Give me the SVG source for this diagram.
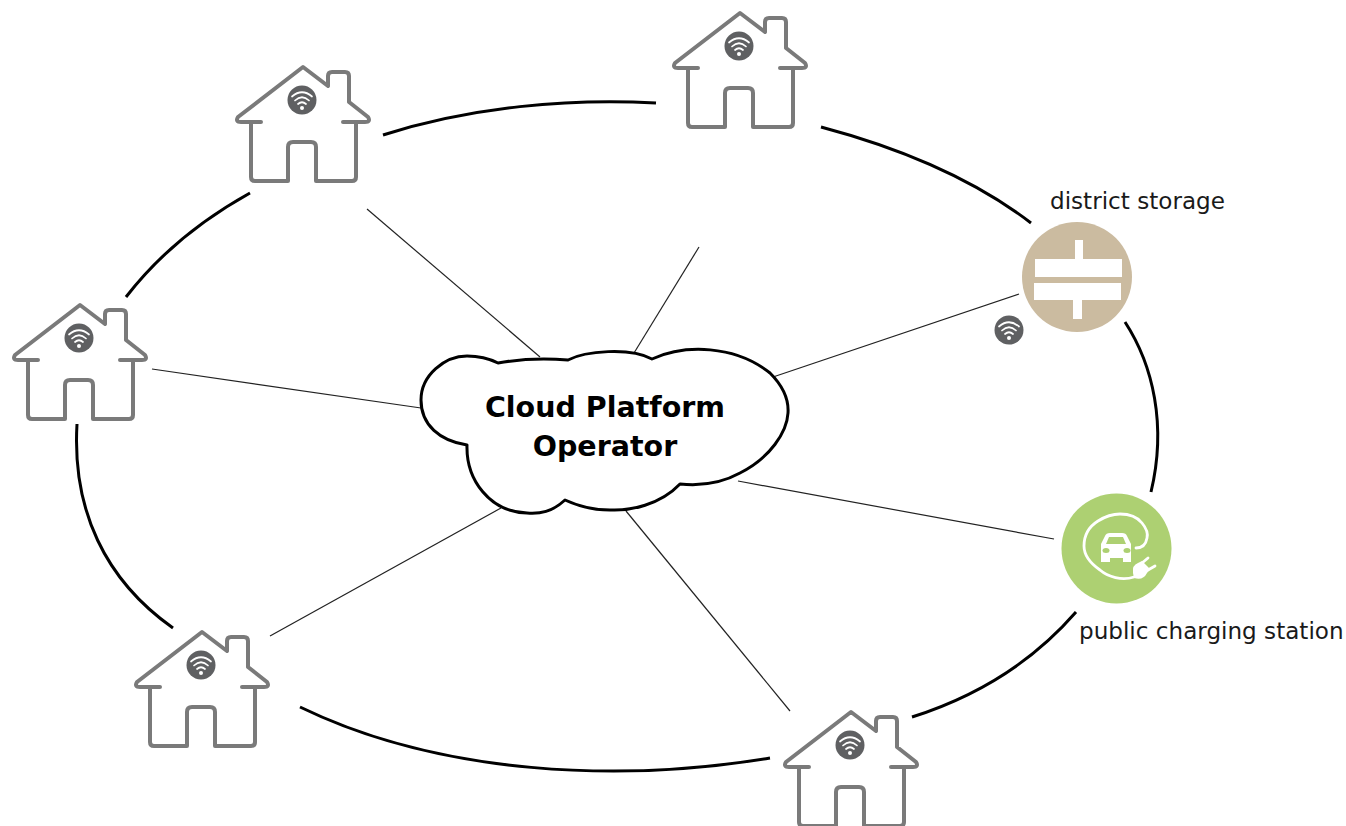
<svg xmlns="http://www.w3.org/2000/svg" width="1346" height="826" viewBox="0 0 1346 826">
<style>
text{font-family:"DejaVu Sans",sans-serif;fill:#1a1a1a}
.ring{fill:none;stroke:#000;stroke-width:3;stroke-linecap:butt}
.spoke{fill:none;stroke:#222;stroke-width:1.2}
.h{fill:none;stroke:#7a7a7a;stroke-width:4;stroke-linejoin:round;stroke-linecap:round}
.w{fill:none;stroke:#fff;stroke-width:1.7;stroke-linecap:round}
.lbl{font-size:23.100px}
.title{font-size:28.500px;font-weight:bold;fill:#000;text-anchor:middle}
</style>
<defs>
<g id="wifi">
<circle r="14.500" fill="#5f6062"/>
<path class="w" d="M-10,-3.500 Q0,-12 10,-3.500 M-7,0.500 Q0,-6 7,0.500 M-4,4 Q0,0.500 4,4"/>
<circle cy="8" r="2" fill="#fff"/>
</g>
<g id="house">
<path class="h" d="M-42,56 L-62,56 Q-68,56 -65,51 L0,1 L25,20 L25,10 Q25,6 29,6 L42,6 Q46,6 46,10 L46,36 L65,51 Q68,56 62,56 L40,56 M53,56 V111 Q53,115 49,115 L13,115 V81 Q13,76 8,76 L-10,76 Q-15,76 -15,81 V115 L-48,115 Q-52,115 -52,111 V56"/>
<use href="#wifi" x="-1" y="34"/>
</g>
</defs>
<g id="connectors">
<path class="ring" d="M383,135 C470,107 570,98 656,103"/>
<path class="ring" d="M821,127 C900,148 975,180 1031,223"/>
<path class="ring" d="M1125,322 C1153,365 1167,425 1151,492"/>
<path class="ring" d="M1076,612 C1030,665 975,697 912,717"/>
<path class="ring" d="M770,758 C620,783 440,775 300,707"/>
<path class="ring" d="M173,628 C105,580 72,510 77,424"/>
<path class="ring" d="M126,297 C160,253 205,218 250,193"/>
<path class="spoke" d="M367,209 L540,357"/>
<path class="spoke" d="M699,247 L634,353"/>
<path class="spoke" d="M1019,294 L773,377"/>
<path class="spoke" d="M152,369 L421,408"/>
<path class="spoke" d="M1054,539 L738,481"/>
<path class="spoke" d="M790,711 L626,511"/>
<path class="spoke" d="M270,636 L501,508"/>
</g>
<g id="cloud">
<path fill="#fff" stroke="#000" stroke-width="3" stroke-linejoin="round" d="M498,363 C520,359 545,358 568,360 C585,351 630,347 652,359 C685,344 735,345 770,373 C782,385 789,398 788,413 C787,432 770,458 740,473 C722,483 700,486 680,484 C660,505 630,511 610,510 C593,510 578,506 565,500 C552,512 540,514 527,513 C490,512 466,480 467,445 C440,441 421,425 421,400 C421,375 445,356 467,356 C480,356 490,359 498,363 Z"/>
<text class="title" x="605" y="417">Cloud Platform</text>
<text class="title" x="605" y="456">Operator</text>
</g>
<g id="house-top"><use href="#house" x="740" y="12"/></g>
<g id="house-upper-left"><use href="#house" x="303" y="66"/></g>
<g id="house-left"><use href="#house" x="80" y="304"/></g>
<g id="house-lower-left"><use href="#house" x="202" y="631"/></g>
<g id="house-bottom"><use href="#house" x="851" y="711"/></g>
<g id="storage">
<circle cx="1077" cy="277" r="55" fill="#cbbba0"/>
<path fill="#fff" d="M1035,259 H1075 V240 H1083 V259 H1122 V277 H1035 Z M1034,283 H1121 V300 H1082 V319 H1073 V300 H1034 Z"/>
<use href="#wifi" x="1009" y="330"/>
<text class="lbl" x="1050" y="209">district storage</text>
</g>
<g id="charging">
<circle cx="1116.500" cy="548.500" r="55" fill="#add072"/>
<path fill="none" stroke="#fff" stroke-width="2.800" stroke-linecap="round" d="M1134,577 C1122,581 1108,577 1100,570 C1090,563 1084,555 1084,546 C1084,534 1090,526 1098,521 C1106,516 1113,514 1120,514 C1130,514 1138,518 1142,523 C1147,529 1148,534 1147,538 C1146,544 1143,548 1136,548"/>
<path fill="#fff" d="M1110,533 H1122 Q1126,533 1127,536 L1131,544 V562 H1123 V558 H1110 V562 H1101 V544 L1105,536 Q1106,533 1110,533 Z"/>
<ellipse cx="1106" cy="550.500" rx="3.500" ry="2.500" fill="#add072"/>
<ellipse cx="1127" cy="550.500" rx="3.500" ry="2.500" fill="#add072"/>
<path fill="#add072" d="M1109,537 H1123 L1126,544 H1106 Z"/>
<path fill="#fff" d="M1133,573 Q1132,565 1138,563 L1142,561 L1150,569 L1147,573 Q1143,581 1134,578 Z"/>
<path stroke="#fff" stroke-width="2.800" stroke-linecap="round" fill="none" d="M1142,563 L1148,558 M1148,570 L1155,566"/>
<text class="lbl" x="1079" y="639">public charging station</text>
</g>
</svg>
